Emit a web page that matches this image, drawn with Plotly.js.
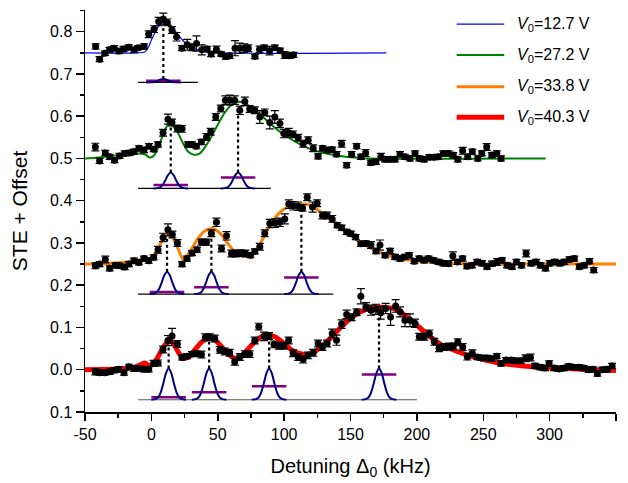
<!DOCTYPE html>
<html>
<head>
<meta charset="utf-8">
<script src="https://cdn.plot.ly/plotly-3.0.1.min.js"></script>
<style>html,body{margin:0;padding:0;background:#fff;}#chart{width:628px;height:483px;}</style>
</head>
<body>
<div id="chart"></div>
<script>
// ---------- measured data ----------
var seriesLabels = ['<i>V</i><sub>0</sub>=12.7 V', '<i>V</i><sub>0</sub>=27.2 V', '<i>V</i><sub>0</sub>=33.8 V', '<i>V</i><sub>0</sub>=40.3 V'];

var x1 = [-42,-39,-35,-31.5,-28,-24.5,-21,-17,-13,-10,-5.5,-2,2,5.5,9,12,15.5,19,23,27,30.5,34,38,42,45,49,52.5,56,59,63,66.5,70,73,78,81.5,85,89,93,97,100.5,104,107];
var y1 = [0.765,0.735,0.749,0.757,0.761,0.754,0.759,0.763,0.757,0.762,0.765,0.794,0.806,0.824,0.830,0.822,0.804,0.788,0.761,0.769,0.763,0.772,0.757,0.759,0.747,0.758,0.747,0.741,0.743,0.761,0.761,0.761,0.761,0.741,0.758,0.762,0.755,0.762,0.755,0.745,0.743,0.745];
var e1 = [0.006,0.006,0.005,0.006,0.006,0.006,0.006,0.006,0.006,0.005,0.006,0.008,0.008,0.010,0.014,0.008,0.008,0.010,0.006,0.013,0.008,0.018,0.012,0.006,0.006,0.008,0.005,0.006,0.006,0.018,0.012,0.010,0.008,0.005,0.008,0.006,0.010,0.006,0.006,0.008,0.006,0.006];

var x2 = [-42.2,-39,-34.7,-31.4,-27.7,-23.9,-20.1,-16.4,-13.1,-9.4,
-5.6,-1.8,1.7,5.0,8.8,12.5,15.5,19.6,23.1,27.6,
30.6,33.9,37.7,41.5,44.7,48.5,52.3,55.8,59,62.8,
66.6,70.4,74.1,77.9,81.7,85.4,89.2,93,96.8,99.8,
103.5,106.8,110.6,114.3,118.1,121.9,125.6,128.9,132.7,136.2,
139.5,143.3,147.1,150.8,154.6,157.8,161.4,165.2,169.2,172.9,
176,179.8,183.5,187.3,191,194.8,198.6,201.8,205.4,209.4,
213.1,216.1,219.9,223.7,227.4,230.8,234.5,238.3,241.8,245.9,
248.9,252.6,256.4,260.2,263.4];
var y2 = [0.527,0.494,0.513,0.504,0.496,0.506,0.512,0.513,0.516,0.524,
0.520,0.529,0.522,0.533,0.561,0.593,0.585,0.571,0.570,0.533,
0.533,0.529,0.539,0.551,0.563,0.598,0.618,0.638,0.638,0.638,
0.614,0.635,0.617,0.614,0.598,0.609,0.585,0.598,0.583,0.559,
0.561,0.557,0.549,0.535,0.543,0.524,0.505,0.524,0.520,0.521,
0.510,0.535,0.484,0.510,0.529,0.504,0.513,0.490,0.492,0.504,
0.498,0.498,0.498,0.510,0.504,0.500,0.512,0.500,0.498,0.503,
0.503,0.504,0.512,0.512,0.508,0.498,0.518,0.504,0.516,0.500,
0.512,0.527,0.508,0.512,0.500];
var e2 = [0.009,0.006,0.006,0.006,0.006,0.006,0.006,0.006,0.006,0.006,
0.006,0.006,0.006,0.006,0.008,0.012,0.008,0.008,0.008,0.006,
0.006,0.006,0.006,0.008,0.008,0.008,0.008,0.010,0.012,0.010,
0.010,0.010,0.008,0.008,0.015,0.008,0.015,0.015,0.010,0.010,
0.010,0.008,0.008,0.008,0.008,0.008,0.006,0.006,0.006,0.006,
0.006,0.008,0.006,0.006,0.006,0.006,0.008,0.006,0.006,0.008,
0.006,0.006,0.006,0.006,0.006,0.006,0.006,0.006,0.006,0.006,
0.006,0.006,0.006,0.006,0.006,0.006,0.008,0.006,0.006,0.006,
0.006,0.008,0.006,0.006,0.006];

var x3 = [-42.2,-39,-34.7,-31.4,-27.1,-23.9,-20.1,-16.9,-13.1,-9.4,
-5.6,-2.0,1.7,5.0,8.8,12.5,15.8,19.6,23.1,26.8,
30.6,34.4,37.7,41.5,45.2,49.0,52.8,56.6,60.3,63.6,
67.3,70.9,74.7,77.9,81.7,85.4,89.2,93,96.8,100.5,
103.5,106.8,110.6,113.9,117.4,121.4,124.9,128.9,132.4,136.2,
140,143.3,147.1,150.3,153.9,157.8,161.6,165.4,169.2,172.2,
176,179.8,183.5,187.3,191,194.3,198,201.8,205.4,208.7,
212.5,216.3,220,223.8,227.1,230.6,234.4,237.7,241.5,245.3,
249.1,252.8,256.6,260.4,264.2,267.9,271.7,275,278.8,282.3,
286.1,289.8,293.1,296.9,300.1,303.9,307.7,311.1,314.9,318.6,
322.4,326.2,330,333.2];
var y3 = [0.246,0.250,0.261,0.240,0.247,0.246,0.243,0.250,0.258,0.254,
0.263,0.258,0.266,0.284,0.313,0.331,0.320,0.300,0.250,0.263,
0.276,0.284,0.302,0.302,0.323,0.349,0.287,0.317,0.275,0.275,
0.276,0.275,0.271,0.280,0.291,0.323,0.346,0.347,0.349,0.357,
0.392,0.388,0.387,0.383,0.408,0.385,0.394,0.365,0.365,0.357,
0.342,0.336,0.326,0.322,0.314,0.298,0.299,0.295,0.281,0.295,
0.271,0.281,0.267,0.263,0.267,0.271,0.257,0.263,0.259,0.263,
0.259,0.255,0.252,0.251,0.269,0.255,0.263,0.245,0.247,0.255,
0.252,0.244,0.251,0.255,0.259,0.247,0.244,0.255,0.247,0.275,
0.252,0.255,0.247,0.240,0.252,0.255,0.252,0.255,0.261,0.263,
0.244,0.247,0.257,0.236];
var e3 = [0.007,0.006,0.008,0.006,0.006,0.006,0.006,0.006,0.006,0.006,
0.006,0.006,0.006,0.008,0.010,0.014,0.008,0.008,0.006,0.006,
0.006,0.006,0.007,0.007,0.008,0.010,0.008,0.010,0.008,0.008,
0.008,0.008,0.006,0.006,0.008,0.008,0.010,0.010,0.010,0.012,
0.010,0.010,0.010,0.008,0.008,0.012,0.008,0.008,0.008,0.008,
0.006,0.006,0.006,0.006,0.006,0.006,0.006,0.008,0.006,0.012,
0.006,0.006,0.006,0.006,0.006,0.006,0.006,0.006,0.006,0.006,
0.006,0.006,0.006,0.006,0.010,0.006,0.006,0.006,0.006,0.006,
0.006,0.006,0.006,0.008,0.006,0.006,0.006,0.006,0.006,0.008,
0.006,0.006,0.006,0.006,0.006,0.006,0.006,0.006,0.006,0.006,
0.006,0.006,0.006,0.006];

var x4 = [-42.2,-39,-35.2,-31.4,-27.7,-24.6,-20.6,-16.9,-13.1,-9.6,
-5.6,-2.0,1.7,5.0,8.8,12.5,15.6,19.6,23.1,26.8,
30.6,33.9,37.7,40.7,44,47.7,51.5,55.3,59,62.8,
66.6,70.4,74.1,77.9,80.9,84.9,88.6,92.4,96,99.8,
103.4,106.8,110.6,114.3,118.1,121.9,125.6,128.9,132.4,136.2,
139.5,143.3,147.1,150.8,154.6,157.8,161.6,165.4,169.2,172.7,
176.5,180.2,184,187.3,191,194.8,198.6,201.8,205.6,209.4,
213.1,216.7,220.4,224.2,227.4,230.8,234.5,238,241.8,245.6,
248.9,252.6,256.4,260.2,263.4,267.2,271,274.7,278.1,281.9,
285.6,288.9,292.6,296.4,299.6,303.4,307.2,310.9,314.4,318.1,
321.9,325.7,329.5,332.7,336,339.8,343.3,347.1];
var y4 = [-0.005,-0.007,-0.007,-0.005,-0.001,0.001,-0.007,0.007,0.003,0.003,
0.001,0.001,0.015,0.016,0.048,0.069,0.080,0.061,0.029,0.032,
0.037,0.038,0.036,0.077,0.077,0.074,0.047,0.043,0.040,0.019,
0.030,0.037,0.037,0.069,0.102,0.079,0.080,0.060,0.057,0.057,
0.069,0.039,0.030,0.024,0.034,0.040,0.062,0.054,0.062,0.086,
0.070,0.108,0.131,0.124,0.136,0.174,0.149,0.141,0.143,0.135,
0.145,0.125,0.151,0.137,0.117,0.117,0.110,0.078,0.078,0.086,
0.066,0.051,0.054,0.055,0.055,0.065,0.054,0.031,0.039,0.030,
0.028,0.028,0.026,0.032,0.015,0.023,0.023,0.021,0.021,0.027,
0.029,0.009,0.006,0.004,0.015,0.004,0.002,0.004,0.008,0.006,
0.006,0.004,0.000,0.001,-0.009,0.000,0.001,0.009];
var e4 = [0.007,0.006,0.006,0.006,0.006,0.006,0.006,0.006,0.007,0.006,
0.006,0.006,0.007,0.007,0.008,0.012,0.018,0.008,0.006,0.006,
0.006,0.006,0.008,0.008,0.008,0.008,0.008,0.008,0.008,0.008,
0.008,0.008,0.008,0.008,0.008,0.010,0.008,0.008,0.008,0.008,
0.008,0.008,0.008,0.008,0.008,0.008,0.008,0.008,0.008,0.010,
0.012,0.010,0.010,0.008,0.008,0.018,0.010,0.012,0.012,0.015,
0.012,0.020,0.015,0.012,0.015,0.015,0.010,0.008,0.008,0.008,
0.008,0.008,0.008,0.008,0.008,0.008,0.008,0.008,0.008,0.006,
0.006,0.006,0.006,0.006,0.006,0.006,0.006,0.006,0.006,0.008,
0.008,0.006,0.006,0.006,0.006,0.006,0.006,0.006,0.006,0.006,
0.006,0.006,0.006,0.006,0.006,0.006,0.006,0.006];

// fitted curves
var fit1x = [-50,-10,-5,-2,0,3,6,10,13,16,20,25,30,35,40,50,177];
var fit1y = [0.75,0.75,0.752,0.765,0.78,0.80,0.815,0.823,0.82,0.81,0.793,0.775,0.763,0.757,0.753,0.75,0.75];
var fit2x = [-50,-40,-30,-20,-10,-5,-1,2,5,8,11,13,16,20,24,28,32,36,40,45,50,55,60,65,70,75,80,90,100,110,120,130,140,150,165,297];
var fit2y = [0.500,0.502,0.506,0.509,0.512,0.510,0.502,0.507,0.525,0.55,0.573,0.580,0.577,0.56,0.535,0.515,0.509,0.511,0.525,0.55,0.58,0.607,0.626,0.634,0.631,0.622,0.610,0.581,0.556,0.537,0.522,0.513,0.507,0.503,0.5,0.5];
var fit3x = [-50,-30,-15,-5,0,4,8,12,15,19,24,30,35,40,46,52,58,63,68,73,78,84,90,96,102,108,114,120,128,137,147,157,167,177,190,205,225,260,350];
var fit3y = [0.250,0.252,0.257,0.262,0.265,0.28,0.305,0.322,0.318,0.295,0.262,0.285,0.31,0.328,0.334,0.322,0.297,0.278,0.270,0.269,0.28,0.31,0.345,0.37,0.384,0.390,0.392,0.389,0.372,0.352,0.325,0.303,0.285,0.272,0.262,0.256,0.252,0.250,0.250];
var fit4x = [-50,-30,-15,-8,-5,-2,1,4,8,12,14,17,21,24,28,33,38,43,48,53,58,63,68,74,80,87,93,100,106,112,117,122,128,135,142,150,158,166,174,182,188,195,202,210,218,226,236,248,262,280,300,320,350];
var fit4y = [0.000,0.001,0.004,0.012,0.016,0.010,0.014,0.025,0.048,0.066,0.069,0.060,0.038,0.028,0.030,0.048,0.066,0.074,0.070,0.054,0.037,0.027,0.033,0.053,0.072,0.082,0.078,0.062,0.046,0.038,0.036,0.041,0.055,0.075,0.098,0.122,0.138,0.146,0.148,0.145,0.136,0.118,0.100,0.078,0.060,0.049,0.037,0.026,0.016,0.009,0.005,0.002,-0.002];

// peak components (inset markers)
var compBase = [0.680, 0.429, 0.179, -0.071];
var compStart = [-10, -10, -10, -10];
var compEnd = [35, 90, 137, 200];
var compCenters = [[9], [14.6, 65.3], [11.8, 45.2, 113], [13, 43.5, 88.7, 171.5]];
var compAmp = [0.008, 0.038, 0.053, 0.074];
var compBarY = [[0.684], [0.437, 0.455], [0.184, 0.195, 0.218], [-0.065, -0.053, -0.039, -0.011]];
var compTop = [[0.816], [0.575, 0.618], [0.316, 0.330, 0.381], [0.058, 0.066, 0.070, 0.125]];
// normalised peak profile
var peakOffsets = [-13,-10,-8,-6,-4,-2,0,2,4,6,8,10,13];
var peakShape = [0,0.02,0.07,0.23,0.52,0.85,1,0.85,0.52,0.23,0.07,0.02,0];

var xTickVals = [-50,0,50,100,150,200,250,300,350];
var xTickText = ['-50','0','50','100','150','200','250','300','350'];
var yTickVals = [-0.1,0,0.1,0.2,0.3,0.4,0.5,0.6,0.7,0.8];
var yTickText = ['0.1','0.0','0.1','0.2','0.3','0.4','0.5','0.6','0.7','0.8'];

// ---------- styles ----------
var fitColors = ['#0000ff', '#008000', '#ff8000', '#ff0000'];
var fitWidths = [1.2, 2, 3, 5];
var FONT = 'Arial, "Liberation Sans", sans-serif';

var traces = [];
var fitsX = [fit1x, fit2x, fit3x, fit4x], fitsY = [fit1y, fit2y, fit3y, fit4y];
var ptsX = [x1, x2, x3, x4], ptsY = [y1, y2, y3, y4], ptsE = [e1, e2, e3, e4];

// inset components
for (var s = 0; s < 4; s++) {
  traces.push({x: [compStart[s], compEnd[s]], y: [compBase[s], compBase[s]], mode: 'lines',
    line: {color: s === 3 ? '#555555' : '#000000', width: 1.2}, hoverinfo: 'skip', showlegend: false});
  for (var k = 0; k < compCenters[s].length; k++) {
    var c = compCenters[s][k];
    var gx = peakOffsets.map(function (o) { return c + o; });
    var gy = peakShape.map(function (v) { return compBase[s] + compAmp[s] * v; });
    traces.push({x: [c - 13, c + 13], y: [compBarY[s][k], compBarY[s][k]], mode: 'lines',
      line: {color: '#800080', width: 2.5}, hoverinfo: 'skip', showlegend: false});
    traces.push({x: gx, y: gy, mode: 'lines', line: {color: '#000080', width: 2, shape: 'spline', smoothing: 0.8},
      hoverinfo: 'skip', showlegend: false});
    traces.push({x: [c, c], y: [compBase[s] + compAmp[s], compTop[s][k]], mode: 'lines',
      line: {color: '#000000', width: 2.2, dash: 'dot'}, hoverinfo: 'skip', showlegend: false});
  }
}
// fits
for (var s2 = 0; s2 < 4; s2++) {
  traces.push({x: fitsX[s2], y: fitsY[s2], mode: 'lines', name: seriesLabels[s2],
    line: {color: fitColors[s2], width: fitWidths[s2], shape: 'spline', smoothing: 0.8}, showlegend: false});
}
// data points
for (var s3 = 0; s3 < 4; s3++) {
  traces.push({x: ptsX[s3], y: ptsY[s3], mode: 'markers', showlegend: false,
    marker: {color: '#000000', size: 7},
    error_y: {type: 'data', array: ptsE[s3], visible: true, color: '#000000', thickness: 1.2, width: 4}});
}

// manual legend
var shapes = [], annotations = [];
var legY = [0.965, 0.888, 0.809, 0.733];
for (var i = 0; i < 4; i++) {
  shapes.push({type: 'line', xref: 'paper', yref: 'paper', x0: 0.700, x1: 0.7895, y0: legY[i], y1: legY[i],
    line: {color: fitColors[i], width: fitWidths[i]}});
  annotations.push({xref: 'paper', yref: 'paper', x: 0.810, y: legY[i], xanchor: 'left', yanchor: 'middle',
    text: seriesLabels[i], showarrow: false, font: {family: FONT, size: 16, color: '#000'}});
}

var layout = {
  width: 628, height: 483,
  margin: {l: 85, r: 12, t: 10, b: 71},
  paper_bgcolor: '#ffffff', plot_bgcolor: '#ffffff',
  font: {family: FONT, size: 16, color: '#000'},
  showlegend: false,
  xaxis: {
    range: [-50, 350], tickmode: 'array', tickvals: xTickVals, ticktext: xTickText,
    showgrid: false, zeroline: false, showline: true, linecolor: '#000', linewidth: 1.5,
    ticks: 'outside', ticklen: 7, tickwidth: 1.5, tickcolor: '#000',
    minor: {tickmode: 'linear', tick0: -50, dtick: 25, ticks: 'outside', ticklen: 4, tickwidth: 1.5, tickcolor: '#000', showgrid: false},
    tickfont: {family: FONT, size: 16},
    title: {text: 'Detuning Δ<sub>0</sub> (kHz)', font: {family: FONT, size: 20}, standoff: 17}
  },
  yaxis: {
    range: [-0.1, 0.8513], tickmode: 'array', tickvals: yTickVals, ticktext: yTickText,
    showgrid: false, zeroline: false, showline: true, linecolor: '#000', linewidth: 1.5,
    ticks: 'outside', ticklen: 8, tickwidth: 1.5, tickcolor: '#000',
    minor: {tickmode: 'linear', tick0: 0, dtick: 0.05, ticks: 'outside', ticklen: 4, tickwidth: 1.5, tickcolor: '#000', showgrid: false},
    tickfont: {family: FONT, size: 16},
    title: {text: 'STE + Offset', font: {family: FONT, size: 21}, standoff: 16}
  },
  shapes: shapes,
  annotations: annotations
};

Plotly.newPlot('chart', traces, layout, {displayModeBar: false, staticPlot: true});
</script>
</body>
</html>
